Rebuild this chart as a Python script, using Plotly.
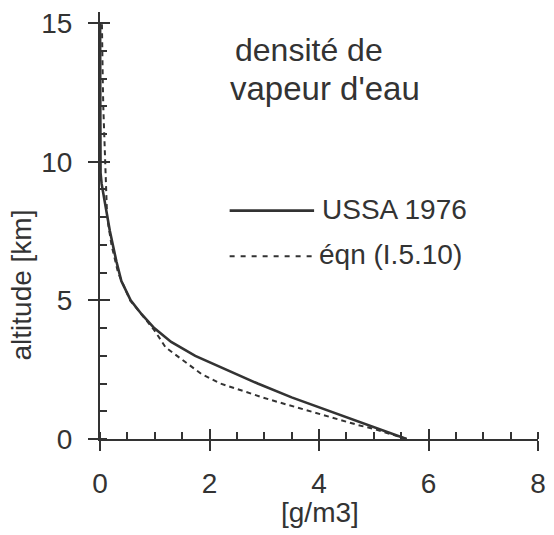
import plotly.graph_objects as go

# ---- data ----
ussa_alt = [0, 0.5, 1, 1.5, 2, 2.5, 3, 3.5, 4, 4.5, 5, 5.7, 6.4, 7.5, 8.45, 9.2, 9.6, 10, 11, 12, 13, 14, 15]
ussa_rho = [5.6, 4.9, 4.2, 3.5, 2.88, 2.3, 1.74, 1.3, 0.99, 0.76, 0.56, 0.39, 0.3, 0.18, 0.09, 0.03, 0.01, 0.008, 0.006, 0.005, 0.004, 0.003, 0.002]

eqn_alt = [0, 0.38, 0.5, 0.86, 1.0, 1.42, 1.5, 2.0, 2.35, 2.95, 3.3, 3.6, 3.9, 4.2, 4.5, 5, 6, 7, 8, 9, 10, 11, 12, 13, 14, 15]
eqn_rho = [5.6, 4.97, 4.72, 4.07, 3.82, 3.1, 2.97, 2.2, 1.85, 1.44, 1.2, 1.1, 1.0, 0.88, 0.75, 0.55, 0.33, 0.21, 0.13, 0.11, 0.09, 0.07, 0.06, 0.05, 0.04, 0.035]

x_ticks = [0, 2, 4, 6, 8]
y_ticks = [0, 5, 10, 15]

ink = "#333333"
font = "Liberation Sans, Arial, sans-serif"

fig = go.Figure()
fig.add_trace(go.Scatter(x=ussa_rho, y=ussa_alt, mode="lines",
                         line=dict(color=ink, width=2.6), showlegend=False))
fig.add_trace(go.Scatter(x=eqn_rho, y=eqn_alt, mode="lines",
                         line=dict(color=ink, width=2, dash="5px,4px"), showlegend=False))
# empty trace to create the overlay axes (inside half of crossing ticks)
fig.add_trace(go.Scatter(x=[], y=[], xaxis="x2", yaxis="y2", showlegend=False))

xr = [0, 8]
yr = [0, 15.4]
fig.update_layout(
    width=554, height=535,
    margin=dict(l=100, r=8, t=9, b=96),
    paper_bgcolor="white", plot_bgcolor="white",
    font=dict(family=font, size=28, color=ink),
    xaxis=dict(range=xr, tickvals=x_ticks, ticks="outside", ticklen=10, tickwidth=2,
               tickcolor=ink, showline=True, linecolor=ink, linewidth=2,
               showgrid=False, zeroline=False, ticklabelstandoff=8,
               minor=dict(ticks="inside", dtick=0.5, ticklen=7, tickwidth=2, tickcolor=ink, showgrid=False),
               tickfont=dict(size=28)),
    yaxis=dict(range=yr, tickvals=y_ticks, ticks="outside", ticklen=10, tickwidth=2,
               tickcolor=ink, showline=True, linecolor=ink, linewidth=2,
               showgrid=False, zeroline=False, ticklabelstandoff=10,
               minor=dict(ticks="inside", dtick=1, ticklen=7, tickwidth=2, tickcolor=ink, showgrid=False),
               tickfont=dict(size=28)),
    xaxis2=dict(range=xr, overlaying="x", anchor="y2", tickvals=x_ticks, ticks="inside",
                ticklen=10, tickwidth=2, tickcolor=ink, showticklabels=False,
                showline=False, showgrid=False, zeroline=False),
    yaxis2=dict(range=yr, overlaying="y", anchor="x2", tickvals=y_ticks, ticks="inside",
                ticklen=10, tickwidth=2, tickcolor=ink, showticklabels=False,
                showline=False, showgrid=False, zeroline=False),
)

# plot area: x 100..546 px, y 9..439 px
def px(q):
    return (q - 100) / 446.0

def py(p):
    return (439 - p) / 430.0

annotations = [
    dict(text="densité de", x=px(313), y=py(47), xref="paper", yref="paper",
         xanchor="center", yanchor="middle", showarrow=False, font=dict(size=32, color=ink)),
    dict(text="vapeur d'eau", x=px(329), y=py(86), xref="paper", yref="paper",
         xanchor="center", yanchor="middle", showarrow=False, font=dict(size=33, color=ink)),
    dict(text="USSA 1976", x=px(324), y=py(208), xref="paper", yref="paper",
         xanchor="left", yanchor="middle", showarrow=False, font=dict(size=28, color=ink)),
    dict(text="éqn (I.5.10)", x=px(321), y=py(253), xref="paper", yref="paper",
         xanchor="left", yanchor="middle", showarrow=False, font=dict(size=28, color=ink)),
    dict(text="[g/m3]", x=px(324), y=py(513), xref="paper", yref="paper",
         xanchor="center", yanchor="middle", showarrow=False, font=dict(size=28, color=ink)),
    dict(text="altitude [km]", x=px(20), y=py(284), xref="paper", yref="paper",
         xanchor="center", yanchor="middle", textangle=-90, showarrow=False,
         font=dict(size=28, color=ink)),
]
fig.update_layout(annotations=annotations)

fig.add_shape(type="line", xref="paper", yref="paper", x0=px(232), x1=px(318),
              y0=py(209), y1=py(209), line=dict(color=ink, width=2.6))
fig.add_shape(type="line", xref="paper", yref="paper", x0=px(232), x1=px(318),
              y0=py(255), y1=py(255), line=dict(color=ink, width=2, dash="5px,6px"))

fig.write_html("out.html")
